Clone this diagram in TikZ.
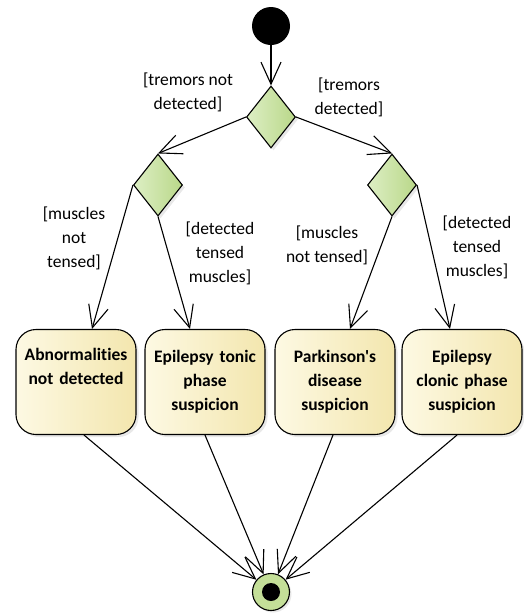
\documentclass[tikz,border=0pt]{standalone}
\usepackage{fontspec}
\setmainfont{Carlito}[Ligatures={NoCommon,TeXOff}]
\usepackage{tikz}
\usetikzlibrary{shapes.geometric,arrows.meta,shadows,calc}
\definecolor{decleft}{HTML}{DDEFC4}
\definecolor{decright}{HTML}{B9D789}
\definecolor{actleft}{HTML}{FDF9E3}
\definecolor{actright}{HTML}{F3E6AE}
\definecolor{endgreen}{HTML}{C4DF98}

\begin{document}
\begin{tikzpicture}[x=1pt,y=-1pt,
    flow/.style={-{Straight Barb[length=22pt,width=20pt]}, line width=1.1pt},
    decision/.style={draw, diamond, line width=1.1pt, minimum width=49pt, minimum height=62pt, inner sep=0pt,
        left color=decleft, right color=decright, drop shadow={shadow xshift=2.5pt, shadow yshift=-2.5pt, fill=black!18}},
    action/.style={draw, rectangle, rounded corners=20pt, line width=1.1pt, minimum width=120pt, minimum height=105pt,
        text width=118pt, align=center, inner sep=0pt, font=\fontsize{17.5}{24}\selectfont\bfseries,
        left color=actleft, right color=actright, drop shadow={shadow xshift=2.5pt, shadow yshift=-2.5pt, fill=black!18}},
    guard/.style={align=center, inner sep=0pt, font=\fontsize{17.5}{24}\selectfont}]
    \useasboundingbox (0,0) rectangle (523,614);

    % initial node
    \node [circle, fill=black, minimum size=38pt, inner sep=0pt] (start) at (271,26) {};

    % decisions
    \node [decision] (tremors) at (271,117) {};
    \node [decision] (leftdec) at (158,185) {};
    \node [decision] (rightdec) at (392,185) {};

    % actions
    \node [action] (normal) at (76,382) {Abnormalities\\not detected\\\strut};
    \node [action] (tonic) at (205,382) {Epilepsy tonic\\phase\\suspicion};
    \node [action] (parkinson) at (335,382) {Parkinson's\\disease\\suspicion};
    \node [action] (clonic) at (462,382) {Epilepsy\\clonic phase\\suspicion};

    % final node
    \node [circle, draw, line width=1.1pt, fill=endgreen, minimum size=37pt, inner sep=0pt,
        drop shadow={shadow xshift=2pt, shadow yshift=-2pt, fill=black!18}] (final) at (271,592) {};
    \node [circle, fill=black, minimum size=18pt, inner sep=0pt] (finaldot) at (final) {};

    % flows
    \draw [flow] (start) -- (tremors.north);
    \draw [flow] (tremors.west) -- (leftdec.north);
    \draw [flow] (tremors.east) -- (rightdec.north);
    \draw [flow] (leftdec.west) -- ([xshift=16pt]normal.north);
    \draw [flow] (leftdec.south) -- ([xshift=-15pt]tonic.north);
    \draw [flow] (rightdec.south) -- ([xshift=15pt]parkinson.north);
    \draw [flow] (rightdec.east) -- ([xshift=-12pt]clonic.north);
    \draw [flow] ([xshift=8pt]normal.south) -- (final);
    \draw [flow] (tonic.south) -- (final);
    \draw [flow] ([xshift=-2pt]parkinson.south) -- (final);
    \draw [flow] ([xshift=-5pt]clonic.south) -- (final);

    % guards
    \node [guard] (gnot) at (188,92) {[tremors not\\detected]};
    \node [guard] (gyes) at (349,97) {[tremors\\detected]};
    \node [guard] (gleftrelax) at (74,238) {[muscles\\not\\tensed]};
    \node [guard] (glefttense) at (220,253) {[detected\\tensed\\muscles]};
    \node [guard] (grightrelax) at (327,245) {[muscles\\not tensed]};
    \node [guard] (grighttense) at (477,247) {[detected\\tensed\\muscles]};
\end{tikzpicture}
\end{document}
